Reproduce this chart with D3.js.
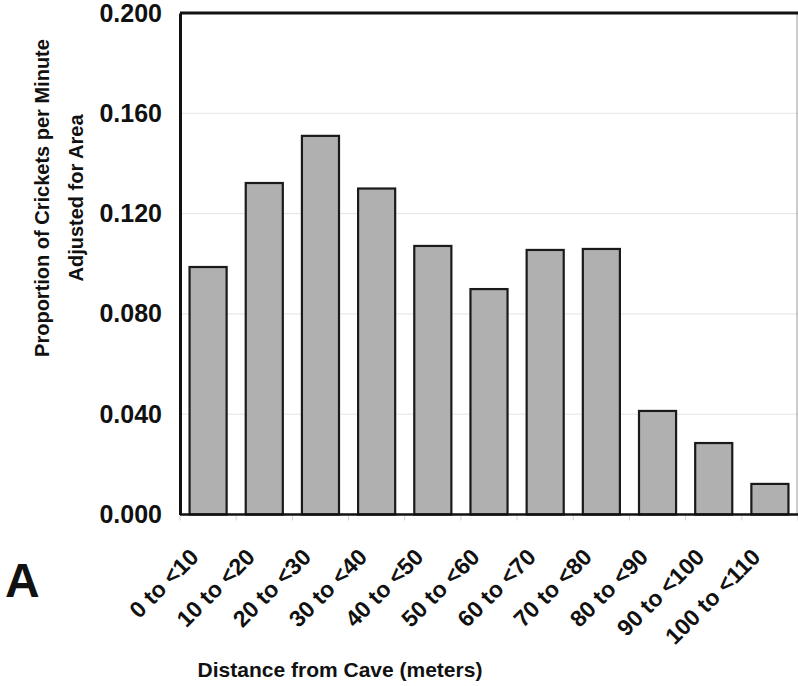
<!DOCTYPE html>
<meta charset="utf-8">
<script src="https://d3js.org/d3.v7.min.js"></script>
<style>
  body { margin: 0; background: #fff; }
  text { font-family: "Liberation Sans", Arial, sans-serif; font-weight: bold; fill: #111; }
</style>
<div id="chart"></div>
<script>
    // categories and values
    var categories = ["0 to <10", "10 to <20", "20 to <30", "30 to <40", "40 to <50", "50 to <60",
                      "60 to <70", "70 to <80", "80 to <90", "90 to <100", "100 to <110"];
    var values = [0.0987, 0.1322, 0.151, 0.130, 0.1071, 0.0899, 0.1055, 0.1059, 0.0413, 0.0285, 0.0122];
    var yTicks = [0, 0.04, 0.08, 0.12, 0.16, 0.2];

    var W = 798, H = 686;
    var margin = {left: 180, right: 798, top: 13, bottom: 514.5};

    var svg = d3.select("#chart").append("svg")
        .attr("width", W).attr("height", H);

    var x = d3.scaleBand()
        .domain(categories)
        .range([margin.left, margin.right])
        .paddingInner(0.34)
        .paddingOuter(0.17);

    var y = d3.scaleLinear()
        .domain([0, 0.2])
        .range([margin.bottom, margin.top]);

    // gridlines
    svg.append("g").selectAll("line")
        .data(yTicks.slice(1, -1))
        .enter().append("line")
        .attr("x1", margin.left).attr("x2", margin.right)
        .attr("y1", function(d) { return y(d); })
        .attr("y2", function(d) { return y(d); })
        .attr("stroke", "#e4e4e4").attr("stroke-width", 1);

    // faint tick marks under the baseline, at band boundaries
    var step = x.step();
    svg.append("g").selectAll("line")
        .data(d3.range(categories.length + 1))
        .enter().append("line")
        .attr("x1", function(i) { return margin.left + i * step; })
        .attr("x2", function(i) { return margin.left + i * step; })
        .attr("y1", margin.bottom).attr("y2", margin.bottom + 6)
        .attr("stroke", "#d4d4d4").attr("stroke-width", 1);

    // bars
    svg.append("g").selectAll("rect")
        .data(values)
        .enter().append("rect")
        .attr("x", function(d, i) { return x(categories[i]); })
        .attr("y", function(d) { return y(d); })
        .attr("width", x.bandwidth())
        .attr("height", function(d) { return margin.bottom - y(d); })
        .attr("fill", "#b0b0b0")
        .attr("stroke", "#1a1a1a")
        .attr("stroke-width", 2.2);

    // frame: heavy top, left, bottom; thin gray right
    svg.append("line").attr("x1", margin.right - 1).attr("x2", margin.right - 1)
        .attr("y1", margin.top).attr("y2", margin.bottom)
        .attr("stroke", "#999").attr("stroke-width", 1);
    svg.append("line").attr("x1", margin.left).attr("x2", margin.right)
        .attr("y1", margin.top).attr("y2", margin.top)
        .attr("stroke", "#111").attr("stroke-width", 3);
    svg.append("line").attr("x1", margin.left).attr("x2", margin.right)
        .attr("y1", margin.bottom).attr("y2", margin.bottom)
        .attr("stroke", "#111").attr("stroke-width", 2.5);

    // Y axis
    var yAxis = svg.append("g")
        .attr("transform", "translate(" + margin.left + ",0)")
        .call(d3.axisLeft(y).tickValues(yTicks).tickFormat(d3.format(".3f")).tickSize(0).tickPadding(18));
    yAxis.select(".domain").attr("stroke", "#111").attr("stroke-width", 3);
    yAxis.selectAll("text")
        .style("font-size", "25px")
        .style("font-family", "Liberation Sans, Arial, sans-serif")
        .style("font-weight", "bold")
        .attr("fill", "#111");

    // X labels, rotated
    svg.append("g").selectAll("text")
        .data(categories)
        .enter().append("text")
        .attr("transform", function(d) {
            var cx = x(d) + x.bandwidth() / 2 - 8;
            return "translate(" + cx + "," + (margin.bottom + 44) + ") rotate(-45)";
        })
        .attr("text-anchor", "end")
        .style("font-size", "23px")
        .text(function(d) { return d; });

    // axis titles
    var yTitle = svg.append("text")
        .attr("transform", "translate(49,198) rotate(-90)")
        .attr("text-anchor", "middle")
        .style("font-size", "20px");
    yTitle.append("tspan").attr("x", 0).attr("dy", 0).text("Proportion of Crickets per Minute");
    yTitle.append("tspan").attr("x", 0).attr("dy", 34).text("Adjusted for Area");

    svg.append("text")
        .attr("x", 340).attr("y", 677)
        .attr("text-anchor", "middle")
        .style("font-size", "21px")
        .text("Distance from Cave (meters)");

    // panel letter
    svg.append("text")
        .attr("x", 5).attr("y", 597)
        .style("font-size", "48px")
        .text("A");
</script>
